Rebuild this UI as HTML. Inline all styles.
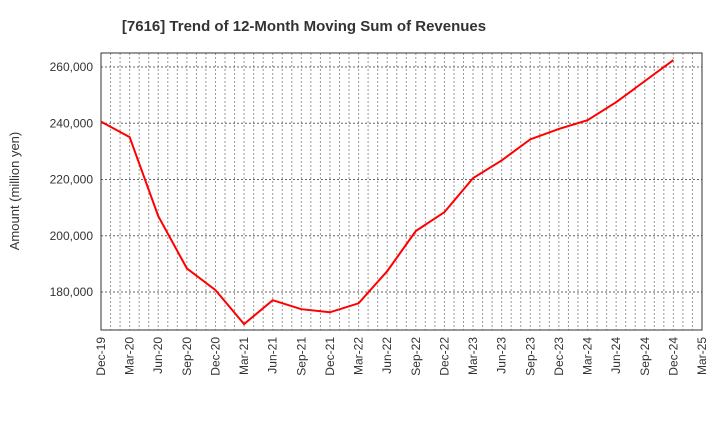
<!DOCTYPE html>
<html><head><meta charset="utf-8"><style>
body{margin:0;background:#fff;font-family:"Liberation Sans",sans-serif}
</style></head><body>
<svg id="c" width="720" height="440" xmlns="http://www.w3.org/2000/svg">
<text x="304" y="31" text-anchor="middle" font-size="15" font-weight="bold" fill="#333">[7616]  Trend of 12-Month Moving Sum of Revenues</text>
<text transform="translate(19,191) rotate(-90)" text-anchor="middle" font-size="13" fill="#333">Amount (million yen)</text>
<g id="grid"></g><g id="axes"></g><g id="series"></g>
</svg>
<script>
const categories=["Dec-19","Mar-20","Jun-20","Sep-20","Dec-20","Mar-21","Jun-21","Sep-21","Dec-21","Mar-22","Jun-22","Sep-22","Dec-22","Mar-23","Jun-23","Sep-23","Dec-23","Mar-24","Jun-24","Sep-24","Dec-24"];
const xTickLabels=["Dec-19","Mar-20","Jun-20","Sep-20","Dec-20","Mar-21","Jun-21","Sep-21","Dec-21","Mar-22","Jun-22","Sep-22","Dec-22","Mar-23","Jun-23","Sep-23","Dec-23","Mar-24","Jun-24","Sep-24","Dec-24","Mar-25"];
const revenues=[240600,235100,207000,188400,180700,168600,177100,173900,172800,176000,187400,201700,208400,220500,226800,234300,238000,241100,247500,255000,262500];
const yTicks=[180000,200000,220000,240000,260000];
const yTickLabels=["180,000","200,000","220,000","240,000","260,000"];
const L=101,R=702,T=53,B=330,yMin=166500,yMax=265000;
const NS="http://www.w3.org/2000/svg";
const x=i=>L+(R-L)*i/(xTickLabels.length-1);
const y=v=>B-(v-yMin)/(yMax-yMin)*(B-T);
function mk(tag,attrs,parent){const e=document.createElementNS(NS,tag);for(const k in attrs)e.setAttribute(k,attrs[k]);document.getElementById(parent).appendChild(e);return e;}
const nM=(xTickLabels.length-1)*3;
for(let m=1;m<nM;m++){const xx=L+(R-L)*m/nM;
const g=mk("line",{x1:xx,x2:xx,y1:T,y2:B,stroke:"#999","stroke-dasharray":"2,2","stroke-width":1},"grid");

}
yTicks.forEach((v,i)=>{
const g=mk("line",{x1:L,x2:R,y1:y(v),y2:y(v),stroke:"#666","stroke-dasharray":"2,2","stroke-width":1},"grid");


const t=mk("text",{x:L-8,y:y(v)+4,"text-anchor":"end","font-size":12,fill:"#333"},"axes");t.textContent=yTickLabels[i];

});
xTickLabels.forEach((s,i)=>{
const t=mk("text",{transform:`translate(${x(i)+4},${B+7}) rotate(-90)`,"text-anchor":"end","font-size":12,fill:"#333"},"axes");t.textContent=s;

});
const f=mk("rect",{x:L,y:T,width:R-L,height:B-T,fill:"none",stroke:"#333","stroke-width":1},"axes");


const p=mk("polyline",{points:revenues.map((v,i)=>x(i)+","+y(v)).join(" "),fill:"none",stroke:"#f00","stroke-width":2},"series");


</script>
</body></html>
